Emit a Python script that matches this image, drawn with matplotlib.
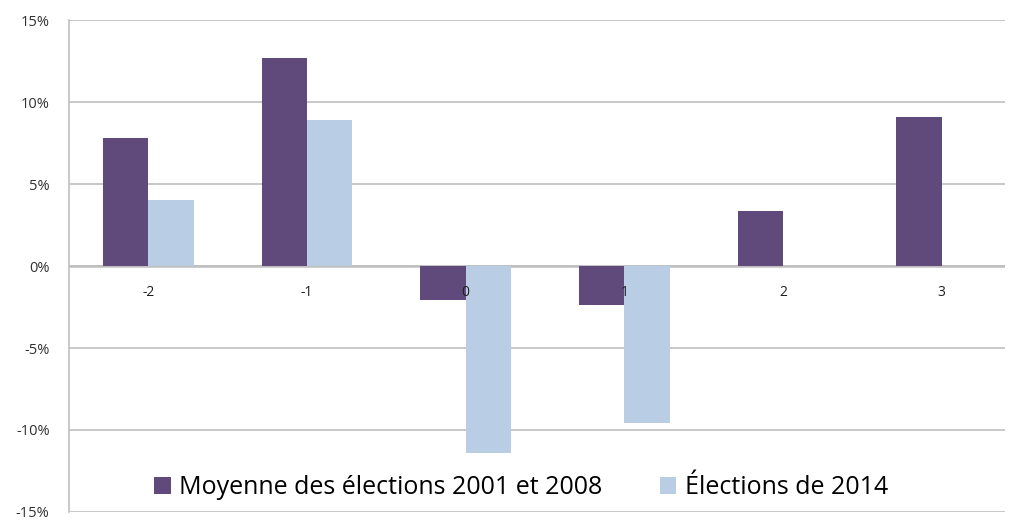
import matplotlib.pyplot as plt
import numpy as np
from matplotlib.ticker import FuncFormatter

# data
categories = ["-2", "-1", "0", "1", "2", "3"]
moyenne_2001_2008 = [7.8, 12.7, -2.1, -2.4, 3.35, 9.1]
elections_2014 = [4.0, 8.9, -11.4, -9.6, np.nan, np.nan]
label_a = "Moyenne des élections 2001 et 2008"
label_b = "Élections de 2014"

dark = "#604A7B"
light = "#B9CDE5"
grid_col = "#BFBFBF"

plt.rcParams['font.family'] = ['Open Sans', 'DejaVu Sans']

fig = plt.figure(figsize=(10.09, 5.2), dpi=100)
ax = fig.add_axes([0.0684, 0.0154, 0.9277, 0.9461])

x = np.arange(len(categories))
w = 0.285
ax.bar(x - w / 2, moyenne_2001_2008, w, color=dark, label=label_a, zorder=3)
ax.bar(x + w / 2, elections_2014, w, color=light, label=label_b, zorder=3)

# right side of the original chart is cut off
ax.set_xlim(-0.5, len(categories) - 0.6)
ax.set_ylim(-15, 15)
ax.set_yticks(np.arange(-15, 16, 5))
ax.yaxis.set_major_formatter(FuncFormatter(lambda v, p: f"{v:.0f}%"))
ax.grid(axis='y', color=grid_col, linewidth=1.2, zorder=0)
ax.axhline(0, color=grid_col, linewidth=1.8, zorder=2)

for s in ['top', 'right', 'bottom']:
    ax.spines[s].set_visible(False)
ax.spines['left'].set_color(grid_col)
ax.spines['left'].set_linewidth(1.2)

ax.set_xticks([])
ax.tick_params(axis='y', length=0, pad=14, labelsize=10.5, labelcolor='#303030')

# category labels sit just under the zero line
for xi, lab in zip(x, categories):
    ax.text(xi, -1.6, lab, ha='center', va='center', fontsize=10, color='#202020', zorder=4)

ax.legend(loc='center', bbox_to_anchor=(0.483, 0.05), ncol=2, frameon=False,
          fontsize=18, handlelength=0.66, handleheight=0.66, handletextpad=0.33,
          columnspacing=2.3, borderpad=0, borderaxespad=0)

fig.savefig("out.png", dpi=100)
